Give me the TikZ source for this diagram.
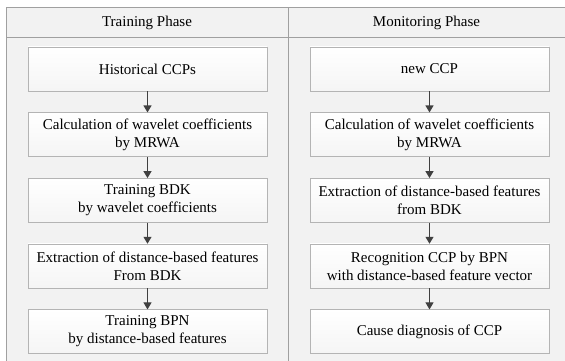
\documentclass[tikz,border=0pt]{standalone}
\usepackage{fontspec}
\setmainfont{Liberation Serif}
\usetikzlibrary{positioning,arrows.meta,shadows}
\definecolor{panelgray}{HTML}{F2F2F2}
\definecolor{linegray}{HTML}{A0A0A0}
\definecolor{boxline}{HTML}{B4B4B4}
\definecolor{arrowgray}{HTML}{404040}

\begin{document}
\begin{tikzpicture}[x=1pt,y=1pt,node distance=21.25pt,
  every node/.style={font=\fontsize{15}{18}\selectfont},
  stagebox/.style={draw=boxline,top color=white,bottom color=gray!8,minimum width=239pt,minimum height=44pt,inner sep=0pt,align=center,
    drop shadow={shadow xshift=0.8pt,shadow yshift=-0.8pt,fill=gray!60,opacity=1}},
  flow/.style={-{Triangle[length=7pt,width=8pt]},color=arrowgray,line width=1.1pt}]
\useasboundingbox (0,0) rectangle (565,-361);
\clip (0,0) rectangle (565,-361);
% table frame
\fill[panelgray] (6,-8) rectangle (570,-370);
\draw[linegray,line width=1pt] (570,-8) -- (6,-8) -- (6,-370);
\draw[linegray,line width=1pt] (6,-38) -- (570,-38);
\draw[linegray,line width=1pt] (288,-8) -- (288,-370);
\node (trhead) at (147,-23) {Training Phase};
\node (mohead) at (426.5,-23) {Monitoring Phase};
% training phase
\node[stagebox] (t1) at (147.5,-69) {Historical CCPs};
\node[stagebox,below=of t1] (t2) {Calculation of wavelet coefficients\\by MRWA};
\node[stagebox,below=of t2] (t3) {Training BDK\\by wavelet coefficients};
\node[stagebox,below=of t3] (t4) {Extraction of distance-based features\\From BDK};
\node[stagebox,below=of t4] (t5) {Training BPN\\by distance-based features};
\draw[flow] (t1) -- (t2);
\draw[flow] (t2) -- (t3);
\draw[flow] (t3) -- (t4);
\draw[flow] (t4) -- (t5);
% monitoring phase
\node[stagebox] (m1) at (429.5,-69) {new CCP};
\node[stagebox,below=of m1] (m2) {Calculation of wavelet coefficients\\by MRWA};
\node[stagebox,below=of m2] (m3) {Extraction of distance-based features\\from BDK};
\node[stagebox,below=of m3] (m4) {Recognition CCP by BPN\\with distance-based feature vector};
\node[stagebox,below=of m4] (m5) {Cause diagnosis of CCP};
\draw[flow] (m1) -- (m2);
\draw[flow] (m2) -- (m3);
\draw[flow] (m3) -- (m4);
\draw[flow] (m4) -- (m5);
\end{tikzpicture}
\end{document}
